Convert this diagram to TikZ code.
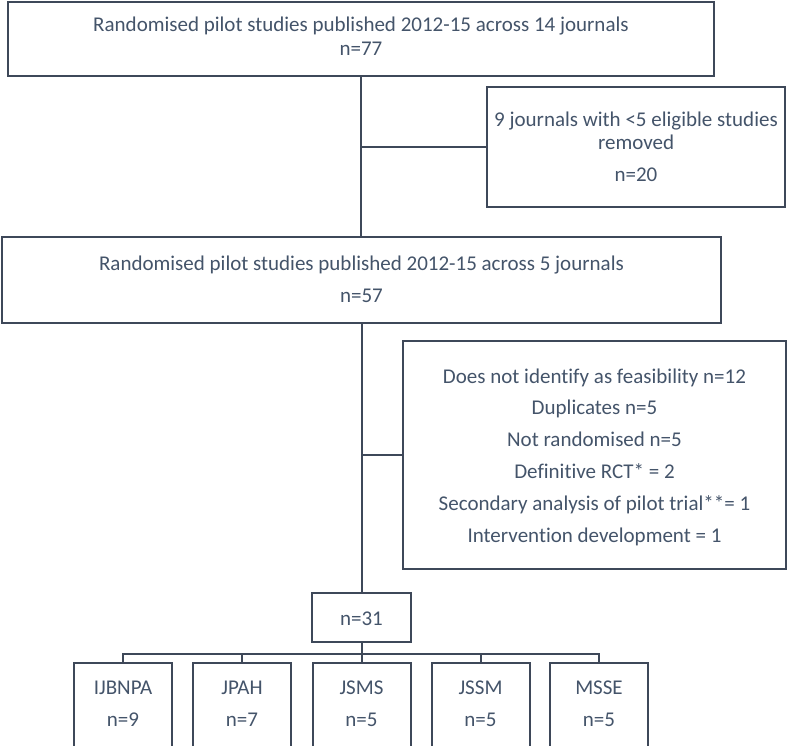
\documentclass[tikz,border=0pt]{standalone}
\usepackage{fontspec}
\setmainfont{Carlito}[Ligatures={NoCommon}]
\definecolor{txtc}{HTML}{44546A}
\definecolor{lnc}{HTML}{3E4859}
\begin{document}
\begin{tikzpicture}[x=1pt,y=-1pt,
  box/.style={draw=lnc, line width=2pt, inner sep=0pt, rectangle, fill=white},
  lbl/.style={text=txtc, font=\fontsize{21}{25}\selectfont, inner sep=0pt, anchor=base},
  link/.style={draw=lnc, line width=2pt}]
\useasboundingbox (0,0) rectangle (787,745);
\clip (0,0) rectangle (787,745);
\fill[white] (0,0) rectangle (787,745);

% boxes
\node[box, minimum width=706, minimum height=74] (b1) at (361,39) {};
\node[box, minimum width=298, minimum height=120] (r1) at (636,147) {};
\node[box, minimum width=719, minimum height=86] (b2) at (361.5,280) {};
\node[box, minimum width=383, minimum height=228] (r2) at (594.5,455) {};
\node[box, minimum width=99, minimum height=49] (n31) at (361.5,617.5) {};
\node[box, minimum width=98, minimum height=100] (c1) at (123,713) {};
\node[box, minimum width=98, minimum height=100] (c2) at (242,713) {};
\node[box, minimum width=98, minimum height=100] (c3) at (361.5,713) {};
\node[box, minimum width=98, minimum height=100] (c4) at (480.5,713) {};
\node[box, minimum width=98, minimum height=100] (c5) at (599,713) {};

% texts
\node[lbl] (t1a) at (361,31) {Randomised pilot studies published 2012-15 across 14 journals};
\node[lbl] (t1b) at (361,55) {n=77};
\node[lbl] (r1a) at (636,126) {9 journals with <5 eligible studies};
\node[lbl] (r1b) at (636,149) {removed};
\node[lbl] (r1c) at (636,181) {n=20};
\node[lbl] (t2a) at (361.5,270) {Randomised pilot studies published 2012-15 across 5 journals};
\node[lbl] (t2b) at (361.5,302) {n=57};
\node[lbl] (r2a) at (594.5,383) {Does not identify as feasibility n=12};
\node[lbl] (r2b) at (594.5,414.8) {Duplicates n=5};
\node[lbl] (r2c) at (594.5,446.6) {Not randomised n=5};
\node[lbl] (r2d) at (594.5,478.4) {Definitive RCT* = 2};
\node[lbl] (r2e) at (594.5,510.2) {Secondary analysis of pilot trial**= 1};
\node[lbl] (r2f) at (594.5,542) {Intervention development = 1};
\node[lbl] (n31t) at (361.5,625) {n=31};
\node[lbl] (c1a) at (123,694) {IJBNPA};
\node[lbl] (c1b) at (123,726) {n=9};
\node[lbl] (c2a) at (242,694) {JPAH};
\node[lbl] (c2b) at (242,726) {n=7};
\node[lbl] (c3a) at (361.5,694) {JSMS};
\node[lbl] (c3b) at (361.5,726) {n=5};
\node[lbl] (c4a) at (480.5,694) {JSSM};
\node[lbl] (c4b) at (480.5,726) {n=5};
\node[lbl] (c5a) at (599,694) {MSSE};
\node[lbl] (c5b) at (599,726) {n=5};

% connectors
\draw[link] (b1.south) -- (b1.south |- b2.north);
\draw[link] (b1.south |- r1.west) -- (r1.west);
\draw[link] (b2.south) -- (b2.south |- n31.north);
\draw[link] (b2.south |- r2.west) -- (r2.west);
\draw[link] (n31.south) -- ++(0,11) coordinate (bus);
\draw[link] (c1.north) -- (c1.north |- bus) -- (c5.north |- bus) -- (c5.north);
\draw[link] (c2.north) -- (c2.north |- bus);
\draw[link] (c3.north) -- (c3.north |- bus);
\draw[link] (c4.north) -- (c4.north |- bus);
\end{tikzpicture}
\end{document}
